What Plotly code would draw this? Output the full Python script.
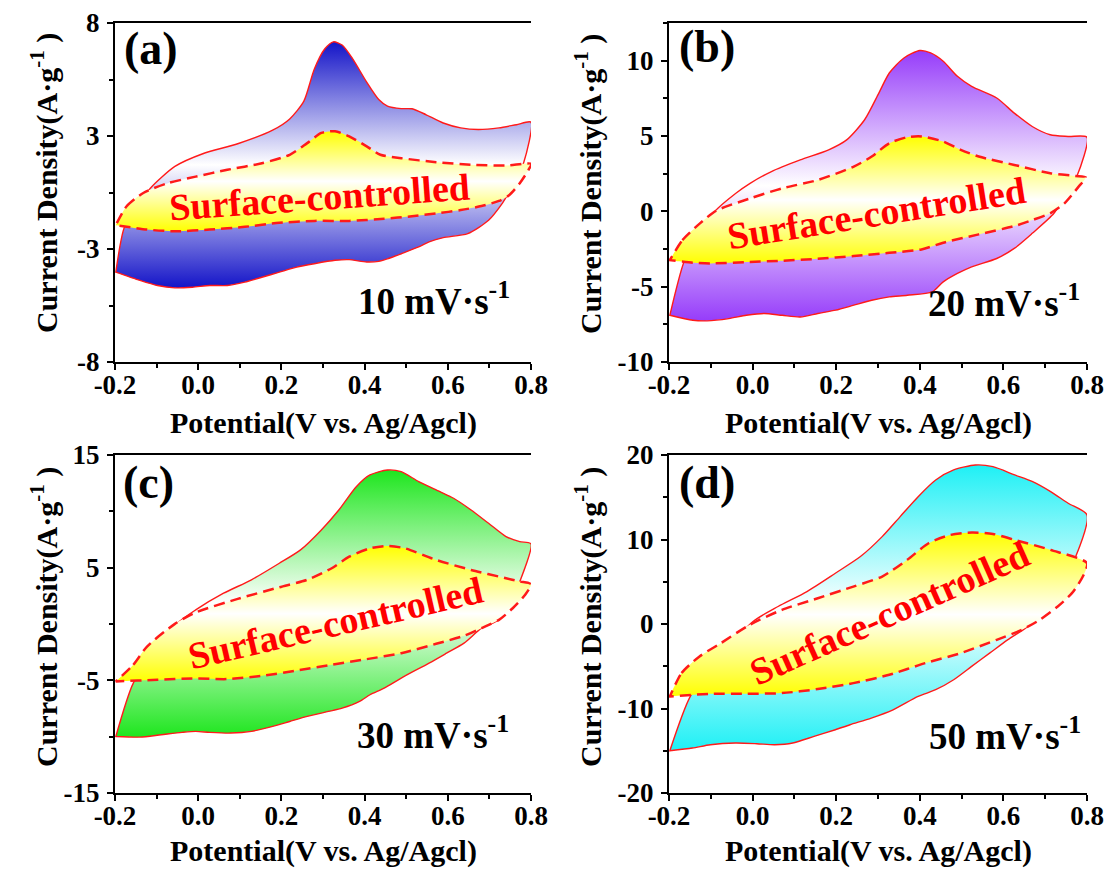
import plotly.graph_objects as go

# ---------------- data ----------------
x_tickvals = [-0.2, 0.0, 0.2, 0.4, 0.6, 0.8]
x_ticktext = ['-0.2', '0.0', '0.2', '0.4', '0.6', '0.8']
x_minor = [-0.1, 0.1, 0.3, 0.5, 0.7]

a_ytickvals = [-8, -8 / 3, 8 / 3, 8]
a_yticktext = ['-8', '-3', '3', '8']
a_yminor = [-16 / 3, 0, 16 / 3]
b_ytickvals = [-10, -5, 0, 5, 10]
b_yticktext = ['-10', '-5', '0', '5', '10']
b_yminor = [-7.5, -2.5, 2.5, 7.5, 12.5]
c_ytickvals = [-15, -5, 5, 15]
c_yticktext = ['-15', '-5', '5', '15']
c_yminor = [-10, 0, 10]
d_ytickvals = [-20, -10, 0, 10, 20]
d_yticktext = ['-20', '-10', '0', '10', '20']
d_yminor = [-15, -5, 5, 15]

panel_labels = ['(a)', '(b)', '(c)', '(d)']
rate_labels = ['10 mV·s<sup>-1</sup>', '20 mV·s<sup>-1</sup>',
               '30 mV·s<sup>-1</sup>', '50 mV·s<sup>-1</sup>']
region_label = 'Surface-controlled'
x_title = 'Potential(V vs. Ag/Agcl)'
y_title = 'Current Density(A·g<sup>-1</sup> )'

# (a) 10 mV/s : total CV loop
a_outer_x = [-0.198, -0.177, -0.140, -0.115, -0.056, 0.011, 0.095, 0.179, 0.220, 0.254, 0.279,
             0.304, 0.325, 0.346, 0.371, 0.405, 0.434, 0.455, 0.488, 0.514, 0.547, 0.589,
             0.631, 0.673, 0.723, 0.765, 0.800, 0.782, 0.756, 0.740, 0.731, 0.698, 0.648,
             0.589, 0.555, 0.530, 0.488, 0.455, 0.434, 0.405, 0.363, 0.329, 0.279, 0.237,
             0.195, 0.153, 0.112, 0.070, 0.028, -0.014, -0.056, -0.098, -0.140, -0.198]
a_outer_y = [-3.76, -1.62, -0.51, 0.20, 1.23, 1.83, 2.30, 2.94, 3.47, 4.31, 5.82,
             6.77, 7.11, 6.96, 6.32, 5.21, 4.39, 4.08, 3.96, 3.95, 3.68, 3.28,
             3.05, 2.97, 3.05, 3.20, 3.32, 1.38, 0.28, -0.23, -0.51, -1.31, -1.94,
             -2.13, -2.33, -2.57, -2.89, -3.13, -3.25, -3.28, -3.17, -3.20, -3.36, -3.52,
             -3.76, -4.00, -4.23, -4.39, -4.39, -4.47, -4.50, -4.39, -4.15, -3.76]
# (a) surface-controlled loop
a_inner_x = [-0.198, -0.173, -0.131, -0.073, -0.006, 0.070, 0.153, 0.220, 0.262, 0.296, 0.329,
             0.363, 0.405, 0.438, 0.488, 0.572, 0.656, 0.740, 0.800, 0.794, 0.773, 0.748,
             0.723, 0.681, 0.631, 0.572, 0.514, 0.447, 0.363, 0.279, 0.195, 0.112, 0.028,
             -0.056, -0.123, -0.198]
a_inner_y = [-1.54, -0.67, -0.01, 0.44, 0.75, 1.07, 1.38, 1.78, 2.33, 2.81, 2.89,
             2.65, 2.18, 1.78, 1.62, 1.43, 1.31, 1.27, 1.35, 1.07, 0.44, -0.12,
             -0.40, -0.64, -0.83, -0.99, -1.12, -1.24, -1.34, -1.34, -1.43, -1.62, -1.75,
             -1.83, -1.75, -1.54]

# (b) 20 mV/s
b_outer_x = [-0.198, -0.164, -0.134, -0.091, -0.040, -0.006, 0.045, 0.114, 0.182, 0.225, 0.268,
             0.302, 0.327, 0.362, 0.400, 0.426, 0.456, 0.490, 0.524, 0.584, 0.626, 0.669,
             0.712, 0.755, 0.800, 0.776, 0.746, 0.721, 0.669, 0.626, 0.584, 0.524, 0.490,
             0.456, 0.430, 0.370, 0.327, 0.285, 0.242, 0.199, 0.156, 0.114, 0.071, 0.028,
             -0.015, -0.057, -0.109, -0.143, -0.198]
b_outer_y = [-6.90, -3.35, -1.80, -0.02, 1.20, 1.86, 2.64, 3.41, 4.08, 4.74, 6.08,
             7.85, 9.18, 10.18, 10.67, 10.51, 9.96, 8.96, 8.29, 7.52, 6.52, 5.63,
             5.08, 4.97, 4.92, 2.35, 0.98, -0.13, -1.46, -2.46, -3.13, -3.68, -4.12,
             -4.68, -5.34, -5.57, -5.68, -5.90, -6.23, -6.56, -6.78, -7.01, -6.90, -6.78,
             -6.90, -7.12, -7.27, -7.23, -6.90]
b_inner_x = [-0.198, -0.168, -0.126, -0.087, -0.006, 0.071, 0.156, 0.242, 0.285, 0.327, 0.370,
             0.404, 0.456, 0.498, 0.541, 0.626, 0.712, 0.772, 0.797, 0.780, 0.746, 0.712,
             0.669, 0.626, 0.541, 0.456, 0.404, 0.327, 0.242, 0.156, 0.071, -0.015, -0.100,
             -0.143, -0.198]
b_inner_y = [-3.24, -1.91, -0.80, 0.04, 0.86, 1.53, 2.08, 2.97, 3.64, 4.52, 4.92,
             4.97, 4.63, 4.08, 3.64, 3.08, 2.53, 2.35, 2.26, 1.64, 0.53, -0.13,
             -0.58, -0.98, -1.53, -2.08, -2.53, -2.75, -2.97, -3.15, -3.28, -3.37, -3.46,
             -3.41, -3.24]

# (c) 30 mV/s
c_outer_x = [-0.198, -0.156, -0.106, -0.052, -0.006, 0.061, 0.128, 0.195, 0.246, 0.296, 0.338,
             0.380, 0.413, 0.455, 0.488, 0.530, 0.581, 0.614, 0.656, 0.698, 0.740, 0.773,
             0.800, 0.773, 0.748, 0.723, 0.681, 0.639, 0.597, 0.555, 0.488, 0.447, 0.413,
             0.388, 0.346, 0.313, 0.262, 0.220, 0.179, 0.128, 0.078, 0.028, -0.006, -0.039,
             -0.089, -0.140, -0.198]
c_outer_y = [-9.98, -5.25, -2.59, 0.01, 1.25, 2.73, 3.92, 5.39, 6.58, 8.35, 10.12,
             12.19, 13.23, 13.67, 13.52, 12.64, 11.75, 11.16, 10.12, 8.94, 7.76, 7.31,
             7.11, 3.77, 1.85, 0.37, -0.37, -1.70, -2.59, -3.47, -4.80, -5.69, -6.28,
             -6.87, -7.47, -7.76, -8.20, -8.65, -9.09, -9.53, -9.68, -9.62, -9.53, -9.62,
             -9.83, -10.04, -9.98]
c_inner_x = [-0.198, -0.156, -0.123, -0.056, -0.006, 0.095, 0.195, 0.262, 0.321, 0.363, 0.413,
             0.455, 0.497, 0.572, 0.656, 0.740, 0.773, 0.800, 0.786, 0.756, 0.723, 0.681,
             0.639, 0.572, 0.488, 0.405, 0.321, 0.237, 0.153, 0.070, -0.014, -0.098, -0.198]
c_inner_y = [-5.10, -3.62, -2.00, 0.01, 1.02, 2.23, 3.26, 3.92, 4.95, 5.98, 6.72,
             6.93, 6.72, 5.69, 4.80, 4.06, 3.77, 3.53, 2.59, 1.40, 0.37, -0.37,
             -1.05, -1.76, -2.59, -3.12, -3.62, -4.13, -4.60, -4.89, -4.83, -4.95, -5.10]

# (d) 50 mV/s
d_outer_x = [-0.198, -0.149, -0.084, 0.001, 0.061, 0.130, 0.198, 0.258, 0.310, 0.353, 0.396,
             0.438, 0.481, 0.533, 0.575, 0.627, 0.670, 0.713, 0.755, 0.800, 0.773, 0.747,
             0.713, 0.687, 0.653, 0.610, 0.567, 0.524, 0.481, 0.438, 0.396, 0.336, 0.284,
             0.233, 0.198, 0.147, 0.096, 0.053, 0.010, -0.041, -0.101, -0.144, -0.198]
d_outer_y = [-15.00, -8.57, -4.24, 0.30, 2.07, 3.84, 6.01, 7.98, 10.34, 12.71, 15.07,
             17.04, 18.23, 18.82, 18.62, 17.64, 16.85, 15.67, 14.29, 12.91, 7.98, 5.62,
             2.86, 0.89, -0.49, -1.87, -3.45, -5.02, -6.60, -7.78, -8.57, -10.15, -11.13,
             -11.92, -12.51, -13.30, -14.09, -14.29, -14.17, -14.09, -14.29, -14.68, -15.00]
d_inner_x = [-0.198, -0.170, -0.127, -0.076, -0.007, 0.070, 0.156, 0.241, 0.310, 0.370, 0.421,
             0.473, 0.524, 0.575, 0.627, 0.713, 0.800, 0.790, 0.764, 0.730, 0.687, 0.644,
             0.584, 0.498, 0.413, 0.327, 0.241, 0.156, 0.070, -0.016, -0.101, -0.198]
d_inner_y = [-8.57, -5.81, -3.84, -2.27, -0.10, 1.67, 3.05, 4.43, 5.62, 7.59, 9.56,
             10.54, 10.82, 10.66, 9.95, 8.77, 7.19, 5.62, 3.65, 2.07, 0.49, -0.69,
             -1.87, -3.45, -4.63, -6.01, -7.00, -7.70, -8.18, -8.26, -8.26, -8.57]

# text positions (data coordinates)
rate_pos = [(0.755, -5.0), (0.789, -5.9), (0.752, -9.6), (0.790, -12.9)]
region_pos = [(0.292, -0.20, -4), (0.297, -0.13, -9), (0.329, 0.07, -13), (0.327, 1.28, -24)]

# ---------------- layout (screen pixels; page body has an 8px margin) ----------------
W, H = 1113, 870
BODY = 8
fill_colors = ['rgb(20,20,200)', 'rgb(150,60,250)', 'rgb(30,230,30)', 'rgb(30,240,245)']
boxes = [(115, 531, 23, 362), (669, 1087, 23, 362), (115, 531, 455, 793), (669, 1087, 455, 793)]
xtitle_y = [423, 423, 851, 851]
ytitle_pos = [(44, 183), (588, 184), (44, 617), (588, 617)]
label_pos = [(0.017, 0.924), (0.019, 0.93), (0.014, 0.92), (0.019, 0.92)]
yranges = [[-8, 8], [-10, 12.5], [-15, 15], [-20, 20]]
yticks = [(a_ytickvals, a_yticktext, a_yminor), (b_ytickvals, b_yticktext, b_yminor),
          (c_ytickvals, c_yticktext, c_yminor), (d_ytickvals, d_yticktext, d_yminor)]
outers = [(a_outer_x, a_outer_y), (b_outer_x, b_outer_y), (c_outer_x, c_outer_y), (d_outer_x, d_outer_y)]
inners = [(a_inner_x, a_inner_y), (b_inner_x, b_inner_y), (c_inner_x, c_inner_y), (d_inner_x, d_inner_y)]

times_bold = 'Liberation Serif'
tick_font = dict(family=times_bold, size=27, color='black', weight='bold')
title_font = dict(family=times_bold, size=30, color='black', weight='bold')


def px_x(p):
    return (p - BODY) / W


def px_y(p):
    return 1 - (p - BODY) / H


fig = go.Figure()
layout = dict(width=W, height=H, margin=dict(l=0, r=0, t=0, b=0, autoexpand=False),
              paper_bgcolor='white', plot_bgcolor='white', showlegend=False)
annotations = []

for i in range(4):
    n = '' if i == 0 else str(i + 1)
    xa, ya = 'x' + n, 'y' + n
    x0, x1, y0, y1 = boxes[i]
    ox, oy = outers[i]
    ix, iy = inners[i]
    c = fill_colors[i]
    fig.add_trace(go.Scatter(
        x=ox + [ox[0]], y=oy + [oy[0]], xaxis=xa, yaxis=ya, mode='lines', fill='toself',
        line=dict(color='#ff1a1a', width=1.4, shape='spline', smoothing=0.7),
        fillgradient=dict(type='vertical', start=min(oy), stop=max(oy),
                          colorscale=[[0, c], [0.5, 'white'], [1, c]]),
        hoverinfo='skip'))
    fig.add_trace(go.Scatter(
        x=ix + [ix[0]], y=iy + [iy[0]], xaxis=xa, yaxis=ya, mode='lines', fill='toself',
        line=dict(color='#ff1a1a', width=2.5, shape='spline', smoothing=0.7, dash='11px,6px'),
        fillgradient=dict(type='vertical', start=min(iy), stop=max(iy),
                          colorscale=[[0, 'rgb(255,255,0)'], [0.5, 'white'], [1, 'rgb(255,255,0)']]),
        hoverinfo='skip'))

    tv, tt, tm = yticks[i]
    layout['xaxis' + n] = dict(
        domain=[px_x(x0), px_x(x1)], anchor=ya, range=[-0.2, 0.8], automargin=False,
        tickvals=x_tickvals, ticktext=x_ticktext, ticks='outside', ticklen=6, tickwidth=2,
        tickcolor='black', showline=True, linewidth=2, linecolor='black', mirror=True,
        showgrid=False, zeroline=False, tickfont=tick_font, ticklabelstandoff=-8,
        minor=dict(tickvals=x_minor, ticks='outside', ticklen=4, tickwidth=2, tickcolor='black'))
    layout['yaxis' + n] = dict(
        domain=[px_y(y1), px_y(y0)], anchor=xa, range=yranges[i], automargin=False,
        tickvals=tv, ticktext=tt, ticks='outside', ticklen=6, tickwidth=2,
        tickcolor='black', showline=True, linewidth=2, linecolor='black', mirror=False,
        showgrid=False, zeroline=False, tickfont=tick_font, ticklabelstandoff=2,
        minor=dict(tickvals=tm, ticks='outside', ticklen=4, tickwidth=2, tickcolor='black'))

    # axis titles
    annotations.append(dict(
        text=x_title, xref=xa + ' domain', yref='paper', x=0.5, y=px_y(xtitle_y[i]),
        xanchor='center', yanchor='middle', showarrow=False, font=title_font))
    tx, ty = ytitle_pos[i]
    annotations.append(dict(
        text=y_title, xref='paper', yref='paper', x=px_x(tx), y=px_y(ty), textangle=-90,
        xanchor='center', yanchor='middle', showarrow=False, font=title_font))

    lx, ly = label_pos[i]
    annotations.append(dict(
        text=panel_labels[i], xref=xa + ' domain', yref=ya + ' domain', x=lx, y=ly,
        xanchor='left', yanchor='middle', showarrow=False,
        font=dict(family=times_bold, size=46, color='black', weight='bold')))
    rx, ry = rate_pos[i]
    annotations.append(dict(
        text=rate_labels[i], xref=xa, yref=ya, x=rx, y=ry, xanchor='right', yanchor='middle',
        showarrow=False, font=dict(family=times_bold, size=37, color='black', weight='bold')))
    sx, sy, ang = region_pos[i]
    annotations.append(dict(
        text=region_label, xref=xa, yref=ya, x=sx, y=sy, xanchor='center', yanchor='middle',
        textangle=ang, showarrow=False,
        font=dict(family=times_bold, size=38, color='#ff0000', weight='bold')))

layout['annotations'] = annotations
fig.update_layout(**layout)
fig.write_html('out.html')
